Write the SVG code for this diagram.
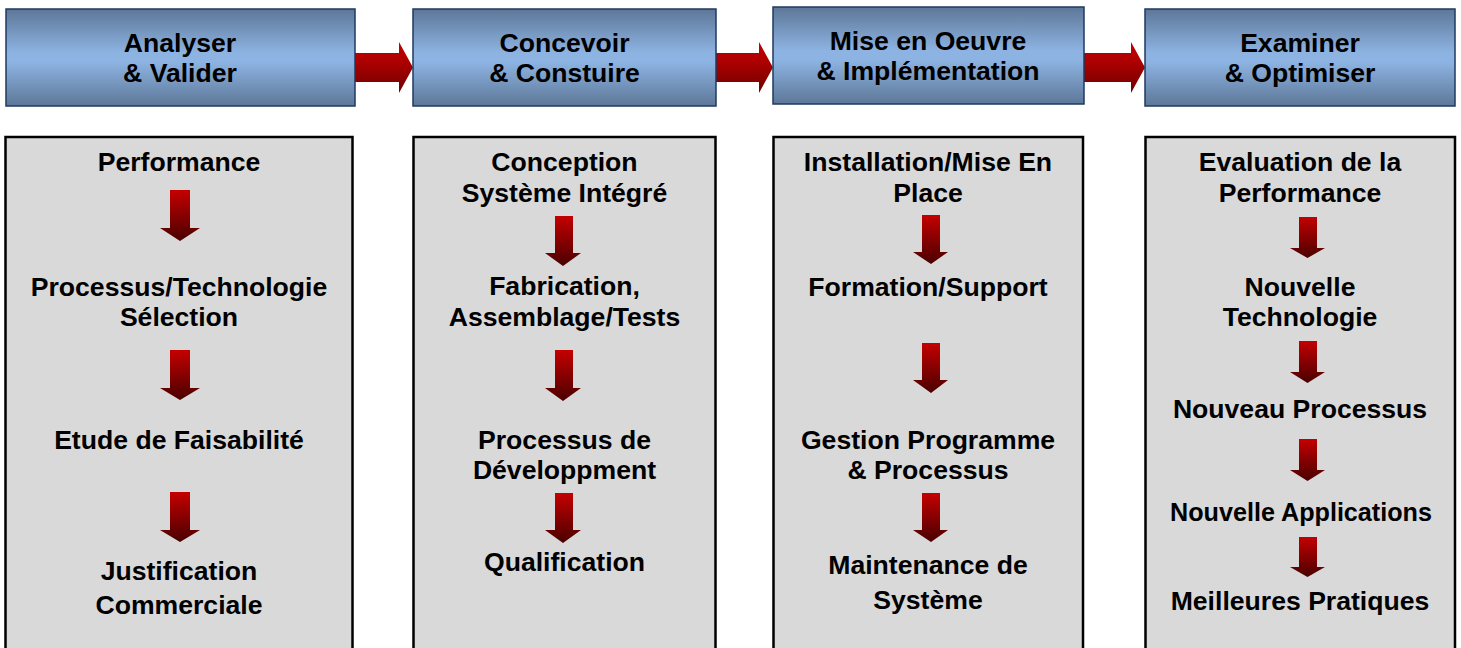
<svg xmlns="http://www.w3.org/2000/svg" width="1461" height="648" viewBox="0 0 1461 648">
<defs>
<linearGradient id="hdr" x1="0" y1="0" x2="0" y2="1">
<stop offset="0" stop-color="#5d7797"/>
<stop offset="0.45" stop-color="#8db3e2"/>
<stop offset="0.55" stop-color="#8db3e2"/>
<stop offset="1" stop-color="#5d7797"/>
</linearGradient>
<linearGradient id="harr" x1="0" y1="0" x2="0" y2="1">
<stop offset="0" stop-color="#c00000"/>
<stop offset="0.35" stop-color="#b00000"/>
<stop offset="1" stop-color="#6e0000"/>
</linearGradient>
<linearGradient id="varr" x1="0" y1="0" x2="0" y2="1">
<stop offset="0" stop-color="#c40000"/>
<stop offset="1" stop-color="#4a0000"/>
</linearGradient>
</defs>
<style>
.hbox{fill:url(#hdr);stroke:#1f3a60;stroke-width:1.5}
.body{fill:#d9d9d9;stroke:#000;stroke-width:2.5}
.t{font-family:"Liberation Sans",Arial,sans-serif;font-weight:bold;font-size:26.6px;fill:#000;text-anchor:middle}
.ha{fill:url(#harr)}
.va{fill:url(#varr)}
</style>
<rect width="1461" height="648" fill="#fff"/>
<g id="connectors">
<path class="ha" d="M355,53 H399 V42 L413,67.5 L399,93 V82 H355 Z"/>
<path class="ha" d="M716,53 H759 V42 L773,67.5 L759,93 V82 H716 Z"/>
<path class="ha" d="M1084,53 H1131 V42 L1145,67.5 L1131,93 V82 H1084 Z"/>
</g>
<g id="header1"><rect class="hbox" x="6" y="9" width="349" height="97"/><text class="t" x="180" y="52">Analyser</text><text class="t" x="180" y="82">&amp; Valider</text></g>
<g id="header2"><rect class="hbox" x="413" y="9" width="303" height="97"/><text class="t" x="564.5" y="52">Concevoir</text><text class="t" x="564.5" y="82">&amp; Constuire</text></g>
<g id="header3"><rect class="hbox" x="773" y="7" width="311" height="97"/><text class="t" x="928" y="50">Mise en Oeuvre</text><text class="t" x="928" y="80">&amp; Implémentation</text></g>
<g id="header4"><rect class="hbox" x="1145" y="9" width="310" height="97"/><text class="t" x="1300" y="52">Examiner</text><text class="t" x="1300" y="82">&amp; Optimiser</text></g>
<g id="col1">
<rect class="body" x="5.5" y="137" width="347" height="520"/>
<text class="t" x="179" y="171">Performance</text>
<path class="va" d="M170,190 H190 V228 H200 L180,241 L160,228 H170 Z"/>
<text class="t" x="179" y="296">Processus/Technologie</text>
<text class="t" x="179" y="326">Sélection</text>
<path class="va" d="M170,350 H190 V388 H200 L180,400 L160,388 H170 Z"/>
<text class="t" x="179" y="449">Etude de Faisabilité</text>
<path class="va" d="M170,492 H190 V530 H200 L180,542 L160,530 H170 Z"/>
<text class="t" x="179" y="580">Justification</text>
<text class="t" x="179" y="614">Commerciale</text>
</g>
<g id="col2">
<rect class="body" x="413.5" y="137" width="302" height="520"/>
<text class="t" x="564.5" y="171">Conception</text>
<text class="t" x="564.5" y="202">Système Intégré</text>
<path class="va" d="M555,216 H573 V253 H581 L563,266 L545,253 H555 Z"/>
<text class="t" x="564.5" y="295">Fabrication,</text>
<text class="t" x="564.5" y="326">Assemblage/Tests</text>
<path class="va" d="M555,350 H573 V388 H581 L563,401 L545,388 H555 Z"/>
<text class="t" x="564.5" y="449">Processus de</text>
<text class="t" x="564.5" y="479">Développment</text>
<path class="va" d="M555,493 H573 V530 H581 L563,543 L545,530 H555 Z"/>
<text class="t" x="564.5" y="571">Qualification</text>
</g>
<g id="col3">
<rect class="body" x="773.5" y="137" width="309.5" height="520"/>
<text class="t" x="928" y="171">Installation/Mise En</text>
<text class="t" x="928" y="202">Place</text>
<path class="va" d="M922,215 H940 V252 H948 L931,264 L913,252 H922 Z"/>
<text class="t" x="928" y="296">Formation/Support</text>
<path class="va" d="M922,343 H940 V380 H948 L931,393 L913,380 H922 Z"/>
<text class="t" x="928" y="449">Gestion Programme</text>
<text class="t" x="928" y="479">&amp; Processus</text>
<path class="va" d="M922,493 H940 V530 H948 L931,542 L913,530 H922 Z"/>
<text class="t" x="928" y="574">Maintenance de</text>
<text class="t" x="928" y="609">Système</text>
</g>
<g id="col4">
<rect class="body" x="1145.5" y="137" width="309.5" height="520"/>
<text class="t" x="1300" y="171">Evaluation de la</text>
<text class="t" x="1300" y="202">Performance</text>
<path class="va" d="M1299,217 H1317 V248 H1325 L1307.5,258 L1290,248 H1299 Z"/>
<text class="t" x="1300" y="296">Nouvelle</text>
<text class="t" x="1300" y="326">Technologie</text>
<path class="va" d="M1299,341 H1317 V372 H1325 L1307.5,383 L1290,372 H1299 Z"/>
<text class="t" x="1300" y="418">Nouveau Processus</text>
<path class="va" d="M1299,439 H1317 V470 H1325 L1307.5,481 L1290,470 H1299 Z"/>
<text class="t" x="1301" y="521" textLength="262" lengthAdjust="spacingAndGlyphs">Nouvelle Applications</text>
<path class="va" d="M1299,537 H1317 V567 H1325 L1307.5,577 L1290,567 H1299 Z"/>
<text class="t" x="1300" y="610">Meilleures Pratiques</text>
</g>
</svg>
